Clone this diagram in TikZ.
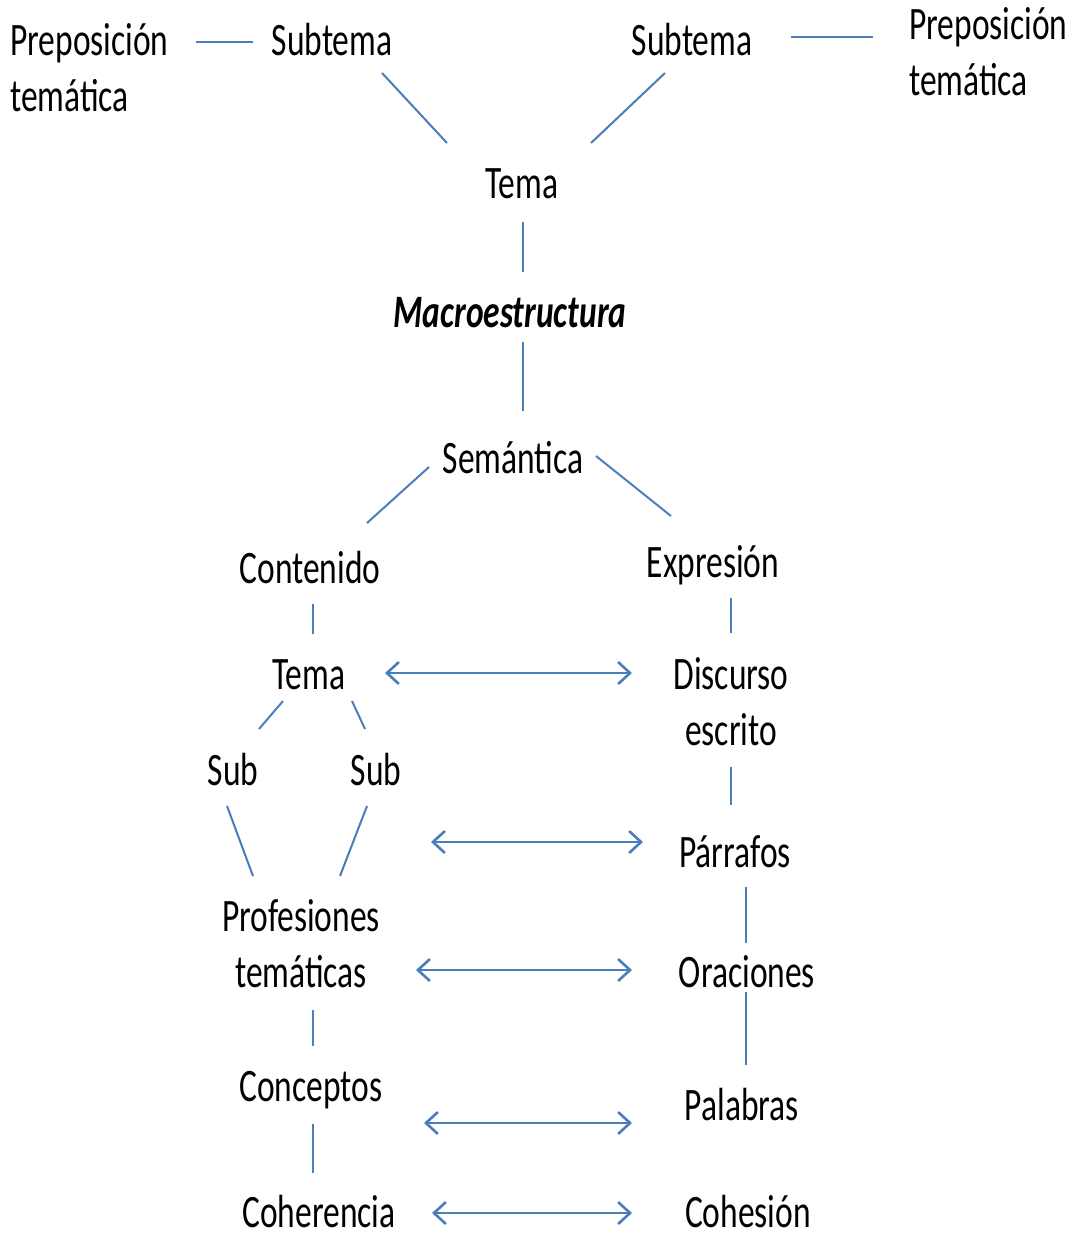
\documentclass[tikz,border=0pt]{standalone}
\usepackage{fontspec}
\setmainfont{Carlito}[FakeStretch=0.72]
\usetikzlibrary{arrows.meta}
\definecolor{linkblue}{RGB}{74,126,187}

\begin{document}
\begin{tikzpicture}[x=1pt, y=-1pt,
    every node/.style={inner sep=0pt, anchor=base, font=\fontsize{46.5}{56}\selectfont},
    link/.style={draw=linkblue, line width=2pt},
    both/.style={draw=linkblue, line width=2.6pt,
      {Straight Barb[length=12pt,width=22pt]}-{Straight Barb[length=12pt,width=22pt]}}]
    \useasboundingbox (0,0) rectangle (1076,1235);
    \fill[white] (0,0) rectangle (1076,1235);

    % top row (two-line nodes sit on their last line)
    \node[anchor=base west, align=left] (prepl) at (10,111) {Preposición\\temática};
    \node (subl) at (332,55) {Subtema};
    \node (subr) at (692,55) {Subtema};
    \node[anchor=base west, align=left] (prepr) at (909,95) {Preposición\\temática};
    \node (tema) at (522,198) {Tema};
    \node (macro) at (510,327) {\bfseries\itshape Macroestructura};
    \node (sem) at (513,473) {Semántica};

    % left column
    \node (cont) at (310,583) {Contenido};
    \node (temab) at (309,689) {Tema};
    \node (suba) at (233,785) {Sub};
    \node (subb) at (376,785) {Sub};
    \node[align=center] (prof) at (301,987) {Profesiones\\temáticas};
    \node (conc) at (311,1101) {Conceptos};
    \node (cohe) at (319,1227) {Coherencia};

    % right column
    \node (expr) at (713,577) {Expresión};
    \node[align=center] (disc) at (731,745) {Discurso\\escrito};
    \node (parr) at (735,867) {Párrafos};
    \node (orac) at (747,987) {Oraciones};
    \node (pala) at (742,1120) {Palabras};
    \node (cohs) at (748,1227) {Cohesión};
    \coordinate (free) at (431,842);

    % draw lines
    \draw[link] ([shift={(186,-69)}]prepl.base west) -- ([shift={(-79,-13)}]subl.base);
    \draw[link] ([shift={(99,-18)}]subr.base) -- ([shift={(-36,-58)}]prepr.base west);
    \draw[link] ([shift={(50,18)}]subl.base) -- ([shift={(-75,-55)}]tema.base);
    \draw[link] ([shift={(-27,18)}]subr.base) -- ([shift={(69,-55)}]tema.base);
    \draw[link] ([shift={(1,24)}]tema.base) -- ([shift={(13,-55)}]macro.base);
    \draw[link] ([shift={(13,15)}]macro.base) -- ([shift={(10,-62)}]sem.base);
    \draw[link] ([shift={(-84,-6)}]sem.base) -- ([shift={(57,-60)}]cont.base);
    \draw[link] ([shift={(83,-17)}]sem.base) -- ([shift={(-42,-61)}]expr.base);
    \draw[link] ([shift={(3,21)}]cont.base) -- ([shift={(4,-55)}]temab.base);
    \draw[link] ([shift={(18,21)}]expr.base) -- ([shift={(0,-112)}]disc.base);
    \draw[link] ([shift={(-26,12)}]temab.base) -- ([shift={(26,-56)}]suba.base);
    \draw[link] ([shift={(43,12)}]temab.base) -- ([shift={(-11,-56)}]subb.base);
    \draw[link] ([shift={(-6,21)}]suba.base) -- ([shift={(-48,-111)}]prof.base);
    \draw[link] ([shift={(-9,21)}]subb.base) -- ([shift={(39,-111)}]prof.base);
    \draw[link] ([shift={(0,22)}]disc.base) -- ([shift={(-4,-62)}]parr.base);
    \draw[link] ([shift={(11,20)}]parr.base) -- ([shift={(-1,-44)}]orac.base);
    \draw[link] ([shift={(-1,5)}]orac.base) -- ([shift={(4,-55)}]pala.base);
    \draw[link] ([shift={(12,23)}]prof.base) -- ([shift={(2,-55)}]conc.base);
    \draw[link] ([shift={(2,23)}]conc.base) -- ([shift={(-6,-54)}]cohe.base);

    % draw double arrows
    \draw[both] ([shift={(76,-16)}]temab.base) -- ([shift={(-99,-72)}]disc.base);
    \draw[both] (free) -- ([shift={(-92,-25)}]parr.base);
    \draw[both] ([shift={(115,-17)}]prof.base) -- ([shift={(-115,-17)}]orac.base);
    \draw[both] ([shift={(113,22)}]conc.base) -- ([shift={(-110,3)}]pala.base);
    \draw[both] ([shift={(113,-14)}]cohe.base) -- ([shift={(-116,-14)}]cohs.base);
\end{tikzpicture}
\end{document}
